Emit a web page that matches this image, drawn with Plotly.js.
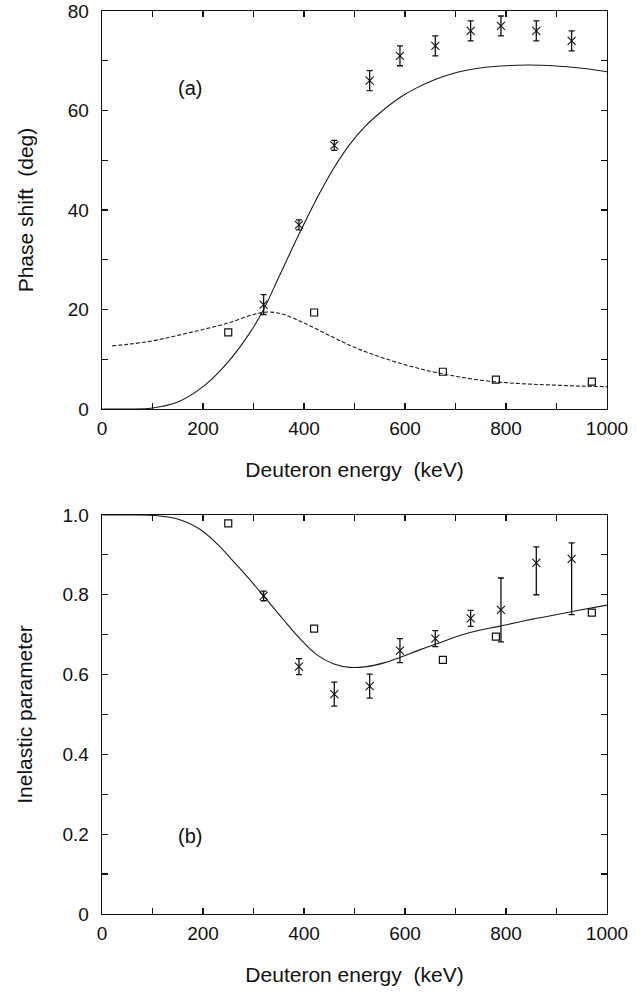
<!DOCTYPE html>
<html>
<head>
<meta charset="utf-8">
<script src="https://cdn.plot.ly/plotly-3.0.1.min.js"></script>
<style>
html,body{margin:0;padding:0;background:#fff;}
#chart{width:644px;height:992px;}
</style>
</head>
<body>
<div id="chart"></div>
<script>
// ---- Data ----
// Panel (a): phase shift (deg)
const crossE = [320, 390, 460, 530, 590, 660, 730, 790, 860, 930];
const crossPhase = [21, 37, 53, 66, 71, 73, 76, 77, 76, 74];
const crossPhaseErr = [2, 1, 1, 2, 2, 2, 2, 2, 2, 2];

const squareE = [250, 420, 675, 780, 970];
const squarePhase = [15.4, 19.4, 7.5, 5.9, 5.5];

const solidE_a = [0, 50, 100, 150, 200, 250, 290, 320, 350, 380, 400, 430, 460, 490, 520, 550, 590, 620, 656, 690, 722, 760, 821, 870, 920, 960, 1000];
const solidPhase = [0, 0, 0.2, 1.4, 4.5, 9.5, 14.9, 20.0, 26.5, 33.0, 37.2, 43.2, 48.6, 53.1, 56.7, 59.5, 62.6, 64.4, 66.1, 67.3, 68.1, 68.7, 69.1, 69.1, 68.8, 68.4, 67.8];

const dashE_a = [20, 50, 100, 150, 200, 250, 300, 330, 360, 400, 450, 500, 550, 600, 650, 700, 750, 800, 850, 900, 950, 1000];
const dashPhase = [12.7, 13.0, 13.7, 14.8, 16.0, 17.3, 19.0, 19.5, 19.0, 17.3, 14.8, 12.4, 10.5, 8.9, 7.6, 6.6, 5.8, 5.3, 5.0, 4.8, 4.6, 4.5];

// Panel (b): inelastic parameter
const crossEta = [0.797, 0.62, 0.551, 0.571, 0.66, 0.69, 0.741, 0.762, 0.88, 0.89];
const crossEtaErrPlus = [0.012, 0.02, 0.03, 0.03, 0.03, 0.02, 0.02, 0.08, 0.04, 0.04];
const crossEtaErrMinus = [0.012, 0.02, 0.03, 0.03, 0.03, 0.02, 0.02, 0.08, 0.08, 0.14];

const squareEta = [0.979, 0.715, 0.637, 0.695, 0.755];

const solidE_b = [0, 50, 100, 150, 194, 230, 260, 290, 320, 359, 392, 425, 458, 491, 524, 560, 590, 625, 660, 722, 790, 861, 931, 1000];
const solidEta = [1.0, 1.0, 0.999, 0.99, 0.964, 0.925, 0.884, 0.842, 0.797, 0.738, 0.690, 0.650, 0.627, 0.618, 0.620, 0.630, 0.643, 0.660, 0.676, 0.703, 0.722, 0.741, 0.758, 0.774];

// Tick labels
const xTickVals = [0, 100, 200, 300, 400, 500, 600, 700, 800, 900, 1000];
const xTickText = ['0', '', '200', '', '400', '', '600', '', '800', '', '1000'];
const yaTickVals = [0, 10, 20, 30, 40, 50, 60, 70, 80];
const yaTickText = ['0', '', '20', '', '40', '', '60', '', '80'];
const ybTickVals = [0, 0.1, 0.2, 0.3, 0.4, 0.5, 0.6, 0.7, 0.8, 0.9, 1.0];
const ybTickText = ['0', '', '0.2', '', '0.4', '', '0.6', '', '0.8', '', '1.0'];

const xTitle = 'Deuteron energy\u00a0\u00a0(keV)';
const yaTitle = 'Phase shift\u00a0\u00a0(deg)';
const ybTitle = 'Inelastic parameter';

// ---- Styles ----
const FONT = 'Liberation Sans, Arial, Helvetica, sans-serif';
const lineCol = '#1a1a1a';

const crossMarker = {symbol: 'x-thin-open', size: 8, color: '#111', line: {width: 1.1, color: '#111'}};
const squareMarker = {symbol: 'square-open', size: 7, color: '#111', line: {width: 1.2, color: '#111'}};

const traces = [
  {x: solidE_a, y: solidPhase, mode: 'lines', line: {color: lineCol, width: 1.1, shape: 'spline', smoothing: 1}, xaxis: 'x', yaxis: 'y', hoverinfo: 'skip'},
  {x: dashE_a, y: dashPhase, mode: 'lines', line: {color: lineCol, width: 1.1, dash: '4px,2px', shape: 'spline'}, xaxis: 'x', yaxis: 'y', hoverinfo: 'skip'},
  {x: crossE, y: crossPhase, mode: 'markers', marker: crossMarker,
   error_y: {type: 'data', array: crossPhaseErr, visible: true, color: '#111', thickness: 1.3, width: 3},
   xaxis: 'x', yaxis: 'y', cliponaxis: false},
  {x: squareE, y: squarePhase, mode: 'markers', marker: squareMarker, xaxis: 'x', yaxis: 'y', cliponaxis: false},

  {x: solidE_b, y: solidEta, mode: 'lines', line: {color: lineCol, width: 1.1, shape: 'spline'}, xaxis: 'x2', yaxis: 'y2', hoverinfo: 'skip'},
  {x: crossE, y: crossEta, mode: 'markers', marker: crossMarker,
   error_y: {type: 'data', array: crossEtaErrPlus, arrayminus: crossEtaErrMinus, symmetric: false, visible: true, color: '#111', thickness: 1.3, width: 3},
   xaxis: 'x2', yaxis: 'y2', cliponaxis: false},
  {x: squareE, y: squareEta, mode: 'markers', marker: squareMarker, xaxis: 'x2', yaxis: 'y2', cliponaxis: false}
];

function xAxis(anchor) {
  return {
    anchor: anchor, range: [0, 1000], domain: [0, 1],
    tickmode: 'array', tickvals: xTickVals, ticktext: xTickText,
    ticks: 'inside', ticklen: 6, tickwidth: 1.2, tickcolor: '#111',
    showline: true, linecolor: '#111', linewidth: 1.3, mirror: 'ticks',
    showgrid: false, zeroline: false,
    tickfont: {family: FONT, size: 19, color: '#111'},
    ticklabelstandoff: 2,
    title: {text: xTitle, font: {family: FONT, size: 21, color: '#111'}, standoff: 24}
  };
}
function yAxis(anchor, domain, range, vals, text, title, standoff) {
  return {
    anchor: anchor, domain: domain, range: range,
    tickmode: 'array', tickvals: vals, ticktext: text,
    ticks: 'inside', ticklen: 6, tickwidth: 1.2, tickcolor: '#111',
    showline: true, linecolor: '#111', linewidth: 1.3, mirror: 'ticks',
    showgrid: false, zeroline: false,
    tickfont: {family: FONT, size: 19, color: '#111'},
    ticklabelstandoff: 8,
    title: {text: title, font: {family: FONT, size: 21, color: '#111'}, standoff: standoff}
  };
}

const layout = {
  width: 644, height: 992,
  margin: {l: 102, r: 37, t: 11, b: 78},
  paper_bgcolor: '#fff', plot_bgcolor: '#fff',
  showlegend: false,
  xaxis: xAxis('y'),
  yaxis: yAxis('x', [0.5592, 1], [0, 80], yaTickVals, yaTickText, yaTitle, 28),
  xaxis2: xAxis('y2'),
  yaxis2: yAxis('x2', [0, 0.4419], [0, 1], ybTickVals, ybTickText, ybTitle, 24),
  annotations: [
    {text: '(a)', x: 175, y: 64.5, xref: 'x', yref: 'y', showarrow: false, font: {family: FONT, size: 20, color: '#111'}},
    {text: '(b)', x: 175, y: 0.195, xref: 'x2', yref: 'y2', showarrow: false, font: {family: FONT, size: 20, color: '#111'}}
  ]
};

Plotly.newPlot('chart', traces, layout, {staticPlot: true, displayModeBar: false});
</script>
</body>
</html>
